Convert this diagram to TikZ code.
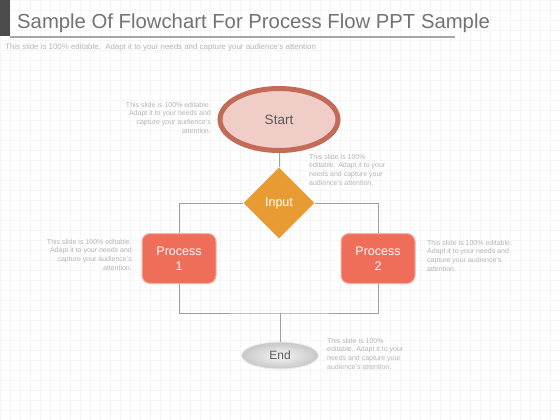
\documentclass[tikz,border=0pt]{standalone}
\usepackage{fontspec}
\setmainfont{Liberation Sans}
\usetikzlibrary{shapes.geometric}
\definecolor{startedge}{HTML}{C46A58}
\definecolor{startfill}{HTML}{F0CEC7}
\definecolor{inputfill}{HTML}{E99B33}
\definecolor{procfill}{HTML}{EF6E5A}
\definecolor{procglow}{HTML}{F6B3A8}
\definecolor{wiregray}{HTML}{A0A0A0}
\definecolor{notegray}{HTML}{B4B4B4}
\definecolor{titlegray}{HTML}{737373}
\tikzset{
    wire/.style={draw=wiregray, line width=0.8pt},
    note/.style={text=notegray, font=\fontsize{7}{8.6}\selectfont, inner sep=0pt},
    procbox/.style={rectangle, rounded corners=8pt, fill=procfill, draw=procglow, line width=1pt,
        minimum width=74pt, minimum height=50pt, text=white, align=center,
        font=\fontsize{12.5}{15}\selectfont},
}

\begin{document}
\begin{tikzpicture}[x=1pt, y=-1pt]
    \useasboundingbox (0,0) rectangle (560,420);
    \fill[white] (0,0) rectangle (560,420);
    \draw[black!4, line width=0.4pt] (0,0) grid[step=10pt] (560,420);

    % header
    \fill[black!70] (0,0) rectangle (10,36);
    \draw[black!35, line width=2pt] (10,37.5) -- (455,37.5);
    \node[anchor=base west, inner sep=0pt, text=titlegray, font=\fontsize{20.3}{24}\selectfont] (title) at (17,29)
        {Sample Of Flowchart For Process Flow PPT Sample};
    \node[anchor=west, inner sep=0pt, text=notegray, font=\fontsize{7.9}{9}\selectfont] (subtitle) at (5,47)
        {This slide is 100\% editable.\ \ Adapt it to your needs and capture your audience's attention};

    % shapes
    \node[ellipse, draw=startedge, line width=5pt, fill=startfill, minimum width=118pt, minimum height=62pt,
        text=black!65, font=\fontsize{13.5}{16}\selectfont] (start) at (279,119.5) {Start};
    \node[diamond, aspect=1, fill=inputfill, minimum width=71pt, minimum height=71pt, inner sep=0pt,
        text=white, font=\fontsize{12.5}{15}\selectfont] (inp) at (279,203) {Input};
    \node[procbox] (procA) at (179,258.5) {Process\\1};
    \node[procbox] (procB) at (378,258.5) {Process\\2};
    \node[ellipse, draw=black!8, line width=1pt, inner color=black!4, outer color=black!22,
        minimum width=77pt, minimum height=27pt, text=black!65, font=\fontsize{12}{14}\selectfont] (fin) at (280,355.5) {End};
    \coordinate (join) at (280,313);

    % connectors
    \draw[wire] (start) -- (inp);
    \draw[wire] (inp.west) -| (procA.north);
    \draw[wire] (inp.east) -| (procB.north);
    \draw[wire] (procA.south) |- (join) -| (procB.south);
    \draw[wire] (join) -- (fin);

    % notes
    \node[note, anchor=north east, align=right] (noteStart) at (211,102)
        {This slide is 100\% editable.\\Adapt it to your needs and\\capture your audience's\\attention.};
    \node[note, anchor=north west, align=left] (noteInp) at (309,154)
        {This slide is 100\%\\editable. Adapt it to your\\needs and capture your\\audience's attention.};
    \node[note, anchor=north east, align=right] (noteA) at (132,239)
        {This slide is 100\% editable.\\Adapt it to your needs and\\capture your audience's\\attention.};
    \node[note, anchor=north west, align=left] (noteB) at (427,240)
        {This slide is 100\% editable.\\Adapt it to your needs and\\capture your audience's\\attention.};
    \node[note, anchor=north west, align=left] (noteFin) at (327,338)
        {This slide is 100\%\\editable. Adapt it to your\\needs and capture your\\audience's attention.};
\end{tikzpicture}
\end{document}
